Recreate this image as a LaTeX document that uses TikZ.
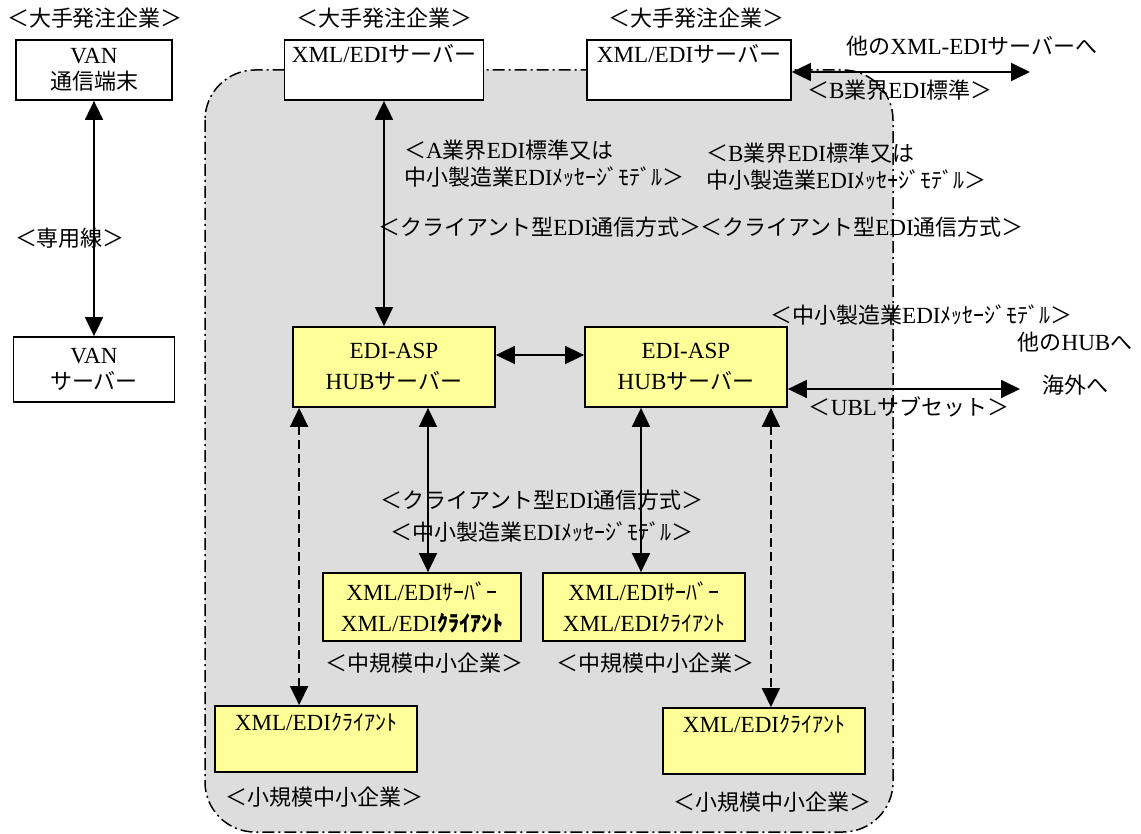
\documentclass[tikz,border=0pt]{standalone}
\usepackage{fontspec}
\setmainfont{Liberation Serif}[Scale=1.05]
\newfontfamily\jpfont{Noto Sans CJK JP}
\usetikzlibrary{arrows.meta}
\definecolor{areagray}{HTML}{DDDDDD}
\definecolor{hubyellow}{HTML}{FFFF99}
\newcommand{\jp}[1]{{\jpfont #1}}
\newcommand{\whitebox}[5]{%
 \node [draw=black, line width=1.8pt, fill=white, align=center, inner sep=2pt,
  minimum width=#3, minimum height=#4] ({#1}) at ({#2}) {#5};%
}
\newcommand{\yellowbox}[5]{%
 \node [draw=black, line width=1.8pt, fill=hubyellow, align=center, inner sep=2pt,
  minimum width=#3, minimum height=#4] ({#1}) at ({#2}) {#5};%
}

\begin{document}
\begin{tikzpicture}[x=1pt, y=-1pt, font=\fontsize{22pt}{26pt}\selectfont,
  txt/.style={inner sep=0pt},
  dbl/.style={line width=1.8pt, {Triangle[width=18pt,length=19pt]}-{Triangle[width=18pt,length=19pt]}},
  dbldash/.style={dbl, dash pattern=on 9pt off 5pt}]
   \useasboundingbox (0,0) rectangle (1141,834);
   % HUB area
   \draw[fill=areagray, line width=1.5pt, rounded corners=50pt,
     dash pattern=on 12pt off 4pt on 2pt off 4pt] (205,70) rectangle (893,832);
   % VAN
   \node[txt] (lblVan) at (95,18) {\jp{＜大手発注企業＞}};
   \whitebox{vanT}{94,70}{156pt}{60pt}{VAN\\\jp{通信端末}};
   \whitebox{vanS}{94,369.5}{161pt}{65pt}{VAN\\\jp{サーバー}};
   \node[txt] (lblLine) at (70,238) {\jp{＜専用線＞}};
   \draw[dbl] (vanT.south) -- (vanS.north);
   % large companies
   \node[txt] (lblXmlA) at (384,18) {\jp{＜大手発注企業＞}};
   \node[txt] (lblXmlB) at (696,18) {\jp{＜大手発注企業＞}};
   \whitebox{xmlA}{384,70}{199pt}{60pt}{XML/EDI\jp{サーバー}\\\strut};
   \whitebox{xmlB}{689,70}{204pt}{60pt}{XML/EDI\jp{サーバー}\\\strut};
   \coordinate (xmlEnd) at (1030,72);
   \draw[dbl] (xmlEnd -| xmlB.east) -- (xmlEnd);
   \node[txt] (lblOther) at (972,46) {\jp{他の}XML-EDI\jp{サーバーへ}};
   \node[txt] (lblStdB) at (900,90) {\jp{＜}B\jp{業界}EDI\jp{標準＞}};
   % HUB servers
   \yellowbox{hubA}{394,367}{202pt}{80pt}{EDI-ASP\\[5pt]HUB\jp{サーバー}};
   \yellowbox{hubB}{686,367}{202pt}{80pt}{EDI-ASP\\[5pt]HUB\jp{サーバー}};
   \draw[dbl] (xmlA.south) -- (xmlA.south |- hubA.north);
   \draw[dbl] ([yshift=12pt]hubA.east) -- ([yshift=12pt]hubB.west);
   \node[txt, anchor=west] (lblStdA1) at (404,150) {\jp{＜}A\jp{業界}EDI\jp{標準又は}};
   \node[txt, anchor=west] (lblStdA2) at (404,177) {\jp{中小製造業}EDI\jp{ﾒｯｾｰｼﾞﾓﾃﾞﾙ＞}};
   \node[txt, anchor=west] (lblStdB1) at (706,153) {\jp{＜}B\jp{業界}EDI\jp{標準又は}};
   \node[txt, anchor=west] (lblStdB2) at (706,180) {\jp{中小製造業}EDI\jp{ﾒｯｾｰｼﾞﾓﾃﾞﾙ＞}};
   \node[txt, anchor=west] (lblCliA) at (378,227) {\jp{＜クライアント型}EDI\jp{通信方式＞}};
   \node[txt, anchor=west] (lblCliB) at (700,227) {\jp{＜クライアント型}EDI\jp{通信方式＞}};
   % other HUBs, abroad
   \node[txt, anchor=west] (lblMsg) at (770,315) {\jp{＜中小製造業}EDI\jp{ﾒｯｾｰｼﾞﾓﾃﾞﾙ＞}};
   \node[txt] (lblHub) at (1075,342) {\jp{他の}HUB\jp{へ}};
   \node[txt] (lblAbroad) at (1075,385) {\jp{海外へ}};
   \coordinate (ublEnd) at (1020,389);
   \draw[dbl] (ublEnd -| hubB.east) -- (ublEnd);
   \node[txt] (lblUbl) at (909,407) {\jp{＜}UBL\jp{サブセット＞}};
   % medium companies
   \yellowbox{midA}{422,607}{198pt}{68pt}{XML/EDI\jp{ｻｰﾊﾞｰ}\\[5pt]XML/EDI\jp{\bfseries ｸﾗｲｱﾝﾄ}};
   \yellowbox{midB}{644,607}{202pt}{68pt}{XML/EDI\jp{ｻｰﾊﾞｰ}\\[5pt]XML/EDI\jp{ｸﾗｲｱﾝﾄ}};
   \node[txt] (lblMidA) at (424,663) {\jp{＜中規模中小企業＞}};
   \node[txt] (lblMidB) at (655,663) {\jp{＜中規模中小企業＞}};
   \coordinate (sA) at ([xshift=34pt]hubA.south);
   \coordinate (sB) at ([xshift=-45pt]hubB.south);
   \draw[dbl] (sA) -- (sA |- midA.north);
   \draw[dbl] (sB) -- (sB |- midB.north);
   \node[txt] (lblCliC) at (542,500) {\jp{＜クライアント型}EDI\jp{通信方式＞}};
   \node[txt] (lblMsgC) at (542,532) {\jp{＜中小製造業}EDI\jp{ﾒｯｾｰｼﾞﾓﾃﾞﾙ＞}};
   % small companies
   \yellowbox{smallA}{316,739}{202pt}{66pt}{XML/EDI\jp{ｸﾗｲｱﾝﾄ}\\\strut};
   \yellowbox{smallB}{764,741}{202pt}{66pt}{XML/EDI\jp{ｸﾗｲｱﾝﾄ}\\\strut};
   \node[txt] (lblSmallA) at (324,797) {\jp{＜小規模中小企業＞}};
   \node[txt] (lblSmallB) at (772,802) {\jp{＜小規模中小企業＞}};
   \coordinate (dA) at ([xshift=7pt]hubA.south west);
   \coordinate (dB) at ([xshift=-17pt]hubB.south east);
   \draw[dbldash] (dA) -- (dA |- smallA.north);
   \draw[dbldash] (dB) -- (dB |- smallB.north);
\end{tikzpicture}
\end{document}
